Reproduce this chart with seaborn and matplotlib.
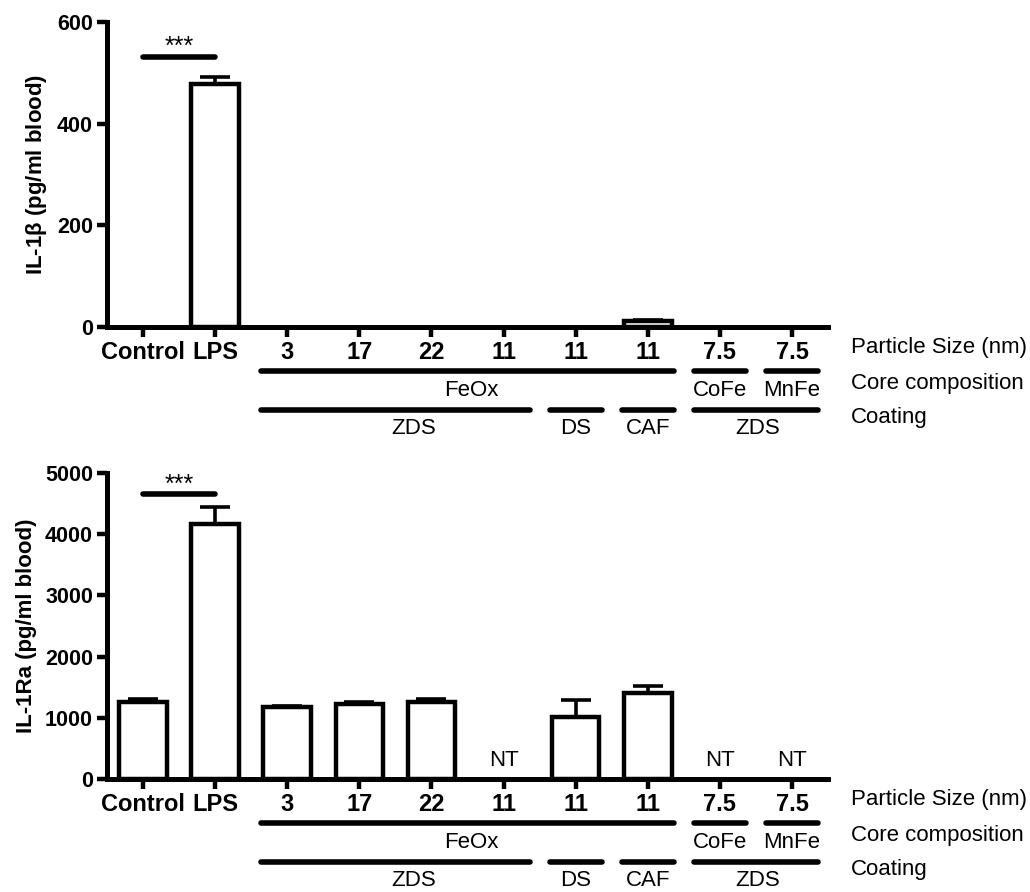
import numpy as np
import pandas as pd
import matplotlib
matplotlib.use("Agg")
import matplotlib.pyplot as plt
import seaborn as sns

# ---------------- data ----------------
groups = ["Control", "LPS", "FeOx3", "FeOx17", "FeOx22", "FeOx11_ZDS",
          "FeOx11_DS", "FeOx11_CAF", "CoFe7.5", "MnFe7.5"]
tick_labels = ["Control", "LPS", "3", "17", "22", "11", "11", "11", "7.5", "7.5"]

il1b_mean = [0, 479, 0, 0, 0, 0, 0, 12, 0, 0]
il1b_err = [0, 13, 0, 0, 0, 0, 0, 1, 0, 0]

il1ra_mean = [1255, 4162, 1170, 1220, 1262, np.nan, 1018, 1410, np.nan, np.nan]
il1ra_err = [45, 290, 23, 38, 50, np.nan, 273, 103, np.nan, np.nan]
nt_groups = [5, 8, 9]

core_rows = [("FeOx", 2, 7, 4.55), ("CoFe", 8, 8, 8.0), ("MnFe", 9, 9, 9.0)]
coat_rows = [("ZDS", 2, 5, 3.75), ("DS", 6, 6, 6.0), ("CAF", 7, 7, 7.0), ("ZDS", 8, 9, 8.53)]

row_names = ["Particle Size (nm)", "Core composition", "Coating"]

# ---------------- style ----------------
sns.set_style("ticks")
plt.rcParams["font.family"] = ["Liberation Sans", "DejaVu Sans"]
for k in ["text.color", "axes.labelcolor", "xtick.color", "ytick.color", "axes.edgecolor"]:
    plt.rcParams[k] = "black"

W, H = 1030, 892
fig = plt.figure(figsize=(W / 100, H / 100), dpi=100)

LW = 3.2


def px_axes(left, top, right, bottom):
    return fig.add_axes([left / W, 1 - bottom / H, (right - left) / W, (bottom - top) / H])


def draw_panel(ax, means, errs, ymax, yticks, ylabel, sig_y, star_y, ax_h):
    df = pd.DataFrame({"group": groups, "value": means})
    sns.barplot(data=df, x="group", y="value", order=groups, color="white",
                edgecolor="black", linewidth=LW, width=0.66, errorbar=None,
                ax=ax, saturation=1)
    for p in ax.patches:
        h = p.get_height()
        if not np.isfinite(h) or h == 0:
            p.set_visible(False)
    x = np.arange(len(groups))
    m = np.array(means, dtype=float)
    e = np.array(errs, dtype=float)
    ok = ~np.isnan(m) & (e > 0)
    ax.errorbar(x[ok], m[ok], yerr=[np.zeros(ok.sum()), e[ok]], fmt="none",
                ecolor="black", elinewidth=2.6, capsize=11, capthick=2.6, zorder=3)
    ax.set_xlim(-0.5, 9.5)
    ax.set_ylim(0, ymax)
    ax.set_yticks(yticks)
    ax.set_yticklabels([str(t) for t in yticks], fontsize=15.5, fontweight="bold")
    ax.set_xticks(x)
    ax.set_xticklabels(tick_labels, fontsize=17, fontweight="bold")
    ax.set_xlabel("")
    ax.set_ylabel(ylabel, fontsize=16, fontweight="bold", labelpad=6)
    for s in ["top", "right"]:
        ax.spines[s].set_visible(False)
    for s in ["left", "bottom"]:
        ax.spines[s].set_linewidth(LW + 0.4)
    ax.tick_params(axis="both", direction="out", length=7, width=LW, pad=3)
    ax.tick_params(axis="x", pad=3)
    ax.set_facecolor("white")
    # significance
    ax.plot([0, 1], [sig_y, sig_y], color="black", lw=4, solid_capstyle="round")
    ax.text(0.5, star_y, "***", ha="center", va="center", fontsize=18)

    # annotation rows below axis
    tr = ax.get_xaxis_transform()

    def yf(off):
        return -off / ax_h

    half = 0.36
    for lab, a, b, cx in core_rows:
        ax.plot([a - half, b + half], [yf(44), yf(44)], transform=tr, color="black",
                lw=4, clip_on=False, solid_capstyle="round")
        ax.text(cx, yf(64), lab, transform=tr, ha="center", va="center", fontsize=16)
    for lab, a, b, cx in coat_rows:
        ax.plot([a - half, b + half], [yf(83), yf(83)], transform=tr, color="black",
                lw=4, clip_on=False, solid_capstyle="round")
        ax.text(cx, yf(102), lab, transform=tr, ha="center", va="center", fontsize=16)
    for off, name in zip([21, 56, 91], row_names):
        ax.text((851 - 107) / 721 * 10 - 0.5, yf(off), name, transform=tr,
                ha="left", va="center", fontsize=16)


ax1 = px_axes(107, 22, 828, 327)
draw_panel(ax1, il1b_mean, il1b_err, 600, [0, 200, 400, 600],
           r"IL-1$\mathregular{\beta}$ (pg/ml blood)", 531, 551, 305)

ax2 = px_axes(107, 473, 828, 779)
draw_panel(ax2, il1ra_mean, il1ra_err, 5000, [0, 1000, 2000, 3000, 4000, 5000],
           "IL-1Ra (pg/ml blood)", 4657, 4810, 306)
for g in nt_groups:
    ax2.text(g, 310, "NT", ha="center", va="center", fontsize=16)

fig.savefig("out.png", dpi=100, facecolor="white")
